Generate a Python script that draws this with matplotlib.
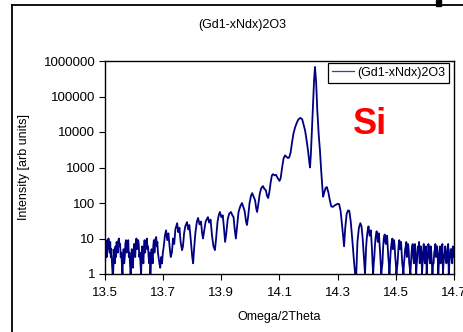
import matplotlib
matplotlib.use("Agg")
import matplotlib.pyplot as plt
from matplotlib.lines import Line2D
from matplotlib.patches import Rectangle
from matplotlib.ticker import FixedLocator, FixedFormatter, NullLocator

plt.rcParams['font.family'] = ['Liberation Sans', 'DejaVu Sans']

title = "(Gd1-xNdx)2O3"
series_name = "(Gd1-xNdx)2O3"
x_label = "Omega/2Theta"
y_label = "Intensity [arb units]"
x_ticks = [13.5, 13.7, 13.9, 14.1, 14.3, 14.5, 14.7]
x_tick_labels = ["13.5", "13.7", "13.9", "14.1", "14.3", "14.5", "14.7"]
y_ticks = [1, 10, 100, 1000, 10000, 100000, 1000000]
y_tick_labels = ["1", "10", "100", "1000", "10000", "100000", "1000000"]

# left noisy region
x_left = [13.500, 13.502, 13.504, 13.506, 13.508, 13.510, 13.512, 13.514, 13.516, 13.518,
          13.520, 13.522, 13.524, 13.526, 13.528, 13.530, 13.532, 13.534, 13.536, 13.538,
          13.540, 13.542, 13.544, 13.546, 13.548, 13.550, 13.552, 13.554, 13.556, 13.558,
          13.560, 13.562, 13.564, 13.566, 13.568, 13.570, 13.572, 13.574, 13.576, 13.578,
          13.580, 13.582, 13.584, 13.586, 13.588, 13.590, 13.592, 13.594, 13.596, 13.598,
          13.600, 13.602, 13.604, 13.606, 13.608, 13.610, 13.612, 13.614, 13.616, 13.618,
          13.620, 13.622, 13.624, 13.626, 13.628, 13.630, 13.632, 13.634, 13.636, 13.638,
          13.640, 13.642, 13.644, 13.646, 13.648, 13.650, 13.652, 13.654, 13.656, 13.658,
          13.660, 13.662, 13.664, 13.666, 13.668, 13.670, 13.672, 13.674, 13.676, 13.678,
          13.680, 13.682, 13.684, 13.687, 13.690, 13.693, 13.696, 13.699]
y_left = [2, 4, 7, 3, 9, 5, 10, 6, 4, 8,
          3, 5, 2, 1, 1, 3, 5, 2, 6, 3,
          8, 5, 4, 9, 10, 6, 7, 3, 4, 2,
          1, 3, 5, 2, 3, 7, 9, 4, 6, 8,
          9, 3, 4, 2, 1, 2, 5, 3, 1.5, 4,
          7, 4, 3, 8, 10, 5, 6, 9, 7, 3,
          4, 2, 1, 3, 6, 3, 2, 5, 9, 4,
          6, 8, 10, 5, 6, 3, 2, 4, 1, 2,
          5, 3, 2, 6, 9, 4, 7, 10, 11, 6,
          8, 4, 3, 2, 1.5, 3, 2, 4]

# fringes rising toward the layer peak and the substrate peak
x_mid = [13.702, 13.706, 13.710, 13.714, 13.718, 13.722, 13.726, 13.730, 13.734, 13.738,
         13.742, 13.748, 13.752, 13.756, 13.760, 13.765, 13.768, 13.772, 13.776, 13.782,
         13.786, 13.790, 13.795, 13.800, 13.803, 13.807, 13.811, 13.816, 13.820, 13.825,
         13.830, 13.834, 13.837, 13.841, 13.846, 13.850, 13.854, 13.858, 13.863, 13.868,
         13.873, 13.878, 13.882, 13.887, 13.891, 13.895, 13.900, 13.905, 13.909, 13.913,
         13.917, 13.922, 13.927, 13.933, 13.938, 13.942, 13.946, 13.950, 13.954, 13.959,
         13.965, 13.971, 13.976, 13.980, 13.985, 13.988, 13.992, 13.997, 14.002, 14.006,
         14.011, 14.016, 14.020, 14.023, 14.027, 14.032, 14.037, 14.043, 14.048, 14.053,
         14.057, 14.061, 14.065, 14.070, 14.074, 14.078, 14.083, 14.088, 14.094, 14.100,
         14.104, 14.109, 14.114, 14.119, 14.124, 14.129, 14.133, 14.138, 14.143, 14.148,
         14.153, 14.158, 14.164, 14.171, 14.178, 14.184, 14.188, 14.193, 14.198, 14.203,
         14.205, 14.208, 14.212, 14.216, 14.219, 14.222, 14.226, 14.230, 14.235, 14.239,
         14.243, 14.247, 14.250, 14.254, 14.259, 14.263, 14.268, 14.273, 14.278, 14.284,
         14.289, 14.295, 14.300, 14.305, 14.310, 14.316, 14.322, 14.326, 14.331, 14.336,
         14.340, 14.345, 14.350, 14.355, 14.360, 14.364, 14.368, 14.373, 14.378, 14.382,
         14.386, 14.390, 14.394]
y_mid = [6, 12, 17, 9, 14, 6, 3, 4, 10, 7,
         18, 27, 15, 20, 8, 4.7, 6, 14, 22, 29,
         18, 24, 9, 3, 2, 6, 15, 30, 38, 25,
         30, 14, 10, 16, 30, 35, 40, 28, 34, 12,
         6, 4.7, 10, 30, 45, 56, 40, 45, 20, 8,
         14, 35, 50, 56, 45, 40, 18, 10, 22, 55,
         80, 100, 75, 60, 30, 24, 40, 100, 160, 190,
         150, 120, 70, 56, 90, 180, 260, 300, 250, 230,
         160, 138, 200, 400, 600, 650, 600, 620, 500, 420,
         500, 1000, 1800, 2200, 2000, 1850, 1900, 2600, 5000, 9000,
         13000, 17000, 22000, 25000, 23000, 15000, 11000, 6000, 3000, 1300,
         1000, 2500, 15000, 90000, 300000, 680000, 250000, 40000, 8000, 3100,
         900, 300, 150, 200, 270, 280, 200, 120, 80, 78,
         85, 90, 95, 93, 60, 20, 6, 20, 50, 62,
         60, 30, 10, 3, 1, 1, 8, 20, 27, 22,
         10, 3, 1]

# right noisy region
x_right = [14.398, 14.400, 14.402, 14.404, 14.406, 14.408, 14.410, 14.412, 14.414, 14.416,
           14.418, 14.420, 14.422, 14.424, 14.426, 14.428, 14.430, 14.432, 14.434, 14.436,
           14.438, 14.440, 14.442, 14.444, 14.446, 14.448, 14.450, 14.452, 14.454, 14.456,
           14.458, 14.460, 14.462, 14.464, 14.466, 14.468, 14.470, 14.472, 14.474, 14.476,
           14.478, 14.480, 14.482, 14.484, 14.486, 14.488, 14.490, 14.492, 14.494, 14.496,
           14.498, 14.500, 14.502, 14.504, 14.506, 14.508, 14.510, 14.512, 14.514, 14.516,
           14.518, 14.520, 14.522, 14.524, 14.526, 14.528, 14.530, 14.532, 14.534, 14.536,
           14.538, 14.540, 14.542, 14.544, 14.546, 14.548, 14.550, 14.552, 14.554, 14.556,
           14.558, 14.560, 14.562, 14.564, 14.566, 14.568, 14.570, 14.572, 14.574, 14.576,
           14.578, 14.580, 14.582, 14.584, 14.586, 14.588, 14.590, 14.592, 14.594, 14.596,
           14.598, 14.600, 14.602, 14.604, 14.606, 14.608, 14.610, 14.612, 14.614, 14.616,
           14.618, 14.620, 14.622, 14.624, 14.626, 14.628, 14.630, 14.632, 14.634, 14.636,
           14.638, 14.640, 14.642, 14.644, 14.646, 14.648, 14.650, 14.652, 14.654, 14.656,
           14.658, 14.660, 14.662, 14.664, 14.666, 14.668, 14.670, 14.672, 14.674, 14.676,
           14.678, 14.680, 14.682, 14.684, 14.686, 14.688, 14.690, 14.692, 14.694, 14.696,
           14.698, 14.700]
y_right = [6, 10, 14, 18, 22, 16, 12, 15, 17, 9,
           5, 2, 1, 2, 3, 6, 10, 13, 16, 11,
           8, 12, 14, 7, 4, 2, 1, 1.5, 2, 5,
           9, 12, 13, 8, 7, 10, 12, 6, 3, 2,
           1, 2, 4, 6, 8, 10, 5, 7, 9, 6,
           3, 2, 1, 1.5, 2, 4, 7, 9, 5, 6,
           8, 4, 2, 1.5, 1, 2, 3, 5, 6, 8,
           3, 4, 7, 5, 2, 1.5, 1, 2, 4, 6,
           7, 3, 2, 5, 7, 4, 1, 2, 3, 6,
           5, 8, 2, 3, 6, 4, 1, 2, 4, 7,
           3, 2, 5, 6, 1, 2, 3, 7, 5, 3,
           2, 6, 4, 2, 1, 2, 2, 4, 5, 7,
           3, 4, 6, 3, 1, 2, 4, 6, 2, 3,
           5, 7, 1, 2, 3, 4, 6, 3, 2, 4,
           5, 7, 1, 2, 3, 5, 5, 3, 2, 6,
           4, 3]

x_data = x_left + x_mid + x_right
y_data = y_left + y_mid + y_right

W, H = 463, 332
fig = plt.figure(figsize=(W / 100, H / 100), dpi=100)
ax = fig.add_axes([105 / W, 1 - 274 / H, (454 - 105) / W, (274 - 61) / H])

line_color = '#000080'
ax.plot(x_data, y_data, color=line_color, lw=1.3, label=series_name, clip_on=True)
ax.set_yscale('log')
ax.set_xlim(13.5, 14.7)
ax.set_ylim(1, 1000000)

ax.xaxis.set_major_locator(FixedLocator(x_ticks))
ax.xaxis.set_major_formatter(FixedFormatter(x_tick_labels))
ax.yaxis.set_major_locator(FixedLocator(y_ticks))
ax.yaxis.set_major_formatter(FixedFormatter(y_tick_labels))
ax.yaxis.set_minor_locator(NullLocator())
ax.tick_params(axis='both', which='major', direction='out', length=4, width=0.8,
               labelsize=9.5, colors='black', pad=3)
ax.tick_params(axis='x', pad=5)
for s in ax.spines.values():
    s.set_linewidth(1.0)
    s.set_color('black')

ax.set_xlabel(x_label, fontsize=9, labelpad=6)
ax.set_ylabel(y_label, fontsize=9)
ax.yaxis.set_label_coords((30 - 105) / (454 - 105), 0.5)
ax.xaxis.set_label_coords(0.5, -(317 - 274) / (274 - 61))
ax.xaxis.label.set_va('center')

fig.text(242 / W, 1 - 25 / H, title, fontsize=9, ha='center', va='center')

leg = ax.legend(loc='upper right', bbox_to_anchor=(449 / W, 1 - 63 / H),
                bbox_transform=fig.transFigure, fontsize=9, frameon=True,
                fancybox=False, edgecolor='black', framealpha=1,
                handlelength=1.8, handletextpad=0.25, borderpad=0.3,
                borderaxespad=0)
leg.get_frame().set_linewidth(0.9)
for h in leg.get_lines():
    h.set_linewidth(0.9)
    h.set_color('#404090')

ax.text((370 - 105) / (454 - 105), (274 - 124) / (274 - 61), "Si", color='#ff0000',
        fontsize=26, fontweight='bold', ha='center', va='center', transform=ax.transAxes)

# outer frame from the slide
fig.add_artist(Line2D([12 / W, 12 / W], [0, 1 - 5 / H], transform=fig.transFigure,
                      color='black', lw=1.3))
fig.add_artist(Line2D([12 / W, 1], [1 - 5 / H, 1 - 5 / H], transform=fig.transFigure,
                      color='black', lw=1.3))
fig.add_artist(Rectangle((436 / W, 1 - 6 / H), 5 / W, 6 / H, transform=fig.transFigure,
                         color='black'))

fig.savefig('out.png', dpi=100)
